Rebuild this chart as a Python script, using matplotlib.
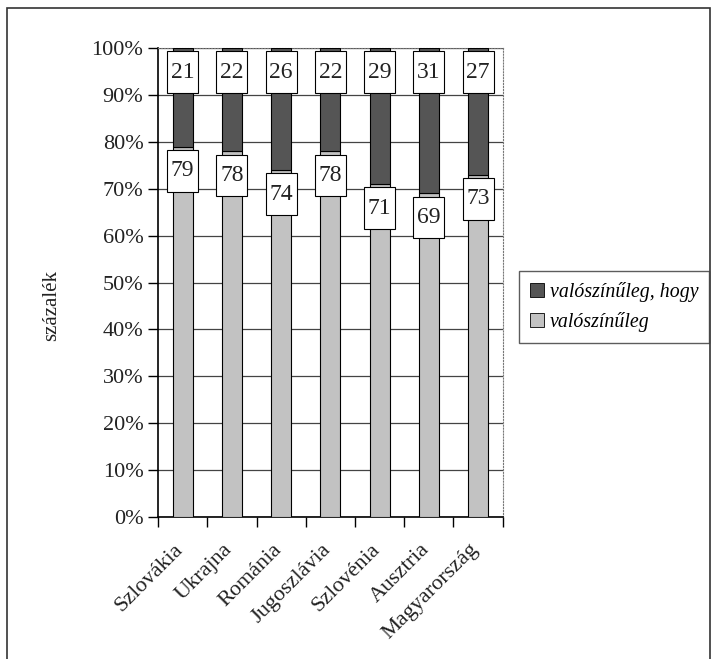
import matplotlib.pyplot as plt
from matplotlib.patches import Rectangle, Patch
from matplotlib.transforms import ScaledTranslation
import numpy as np

plt.rcParams['font.family'] = ['Liberation Serif', 'DejaVu Serif']

# Országok és a két válaszkategória százalékai
orszagok = ['Szlovákia', 'Ukrajna', 'Románia', 'Jugoszlávia',
            'Szlovénia', 'Ausztria', 'Magyarország']
valoszinuleg = [79, 78, 74, 78, 71, 69, 73]
valoszinuleg_hogy = [21, 22, 26, 22, 29, 31, 27]

vilagos = '#c2c2c2'
sotet = '#555555'

fig = plt.figure(figsize=(7.12, 6.59), dpi=100)
ax = fig.add_axes([0.222, 0.2155, 0.484, 0.7115])

# keret a teljes ábra körül
fig.patches.append(Rectangle((0.010, -0.02), 0.987, 1.008, transform=fig.transFigure,
                             fill=False, edgecolor='#333333', linewidth=1.2))

x = np.arange(len(orszagok))
w = 0.41
ax.bar(x, valoszinuleg, w, color=vilagos, edgecolor='black', linewidth=0.8, zorder=3)
ax.bar(x, valoszinuleg_hogy, w, bottom=valoszinuleg, color=sotet,
       edgecolor='black', linewidth=0.8, zorder=3)


def cimke(xc, teteje, szoveg):
    # fehér doboz a szakasz teteje alatt, benne az érték
    bw, bh, res = 0.63, 8.9, 0.7
    ax.add_patch(Rectangle((xc - bw / 2, teteje - res - bh), bw, bh, facecolor='white',
                           edgecolor='black', linewidth=0.8, zorder=5))
    ax.text(xc, teteje - res - bh / 2, szoveg, ha='center', va='center',
            fontsize=17, zorder=6, color='#222222')


for i in range(len(orszagok)):
    cimke(x[i], valoszinuleg[i] + valoszinuleg_hogy[i], str(valoszinuleg_hogy[i]))
    cimke(x[i], valoszinuleg[i], str(valoszinuleg[i]))

ax.set_xlim(-0.5, len(orszagok) - 0.5)
ax.set_ylim(0, 100)
ax.set_yticks(np.arange(0, 101, 10))
ax.set_yticklabels([f'{v}%' for v in range(0, 101, 10)], fontsize=16, color='#222222')
ax.yaxis.grid(True, color='#444444', linewidth=0.9, zorder=0)
ax.set_ylabel('százalék', fontsize=15, color='#222222')
ax.yaxis.set_label_coords(-0.28, 0.45)

ax.set_xticks(np.arange(len(orszagok) + 1) - 0.5, minor=False)
ax.set_xticklabels([])
ax.set_xticks(x, minor=True)
ax.set_xticklabels(orszagok, minor=True, rotation=45, ha='right',
                   rotation_mode='anchor', fontsize=16, color='#222222')
ax.tick_params(axis='x', which='minor', length=0, pad=15)
ax.tick_params(axis='x', which='major', length=7, direction='out', width=1)
ax.tick_params(axis='y', length=7, direction='out', width=1)

# a ferde országnevek kissé balra tolva
eltolas = ScaledTranslation(-9 / 100, -2 / 100, fig.dpi_scale_trans)
for t in ax.get_xticklabels(minor=True):
    t.set_transform(t.get_transform() + eltolas)

ax.spines['top'].set_linestyle(':')
ax.spines['top'].set_color('#777777')
ax.spines['right'].set_linestyle(':')
ax.spines['right'].set_color('#777777')
ax.spines['left'].set_linewidth(1.2)
ax.spines['bottom'].set_linewidth(1.2)

kezelok = [Patch(facecolor=sotet, edgecolor='black', linewidth=0.6),
           Patch(facecolor=vilagos, edgecolor='black', linewidth=0.6)]
leg = fig.legend(kezelok, ['valószínűleg, hogy', 'valószínűleg'],
                 loc='center left', bbox_to_anchor=(0.729, 0.534),
                 prop={'style': 'italic', 'size': 14.3}, frameon=True, fancybox=False,
                 handlelength=0.7, handleheight=0.7, handletextpad=0.3,
                 borderpad=0.55, labelspacing=0.5, borderaxespad=0)
leg.get_frame().set_edgecolor('#333333')
leg.get_frame().set_linewidth(1.0)

fig.savefig('out.png', dpi=100)
